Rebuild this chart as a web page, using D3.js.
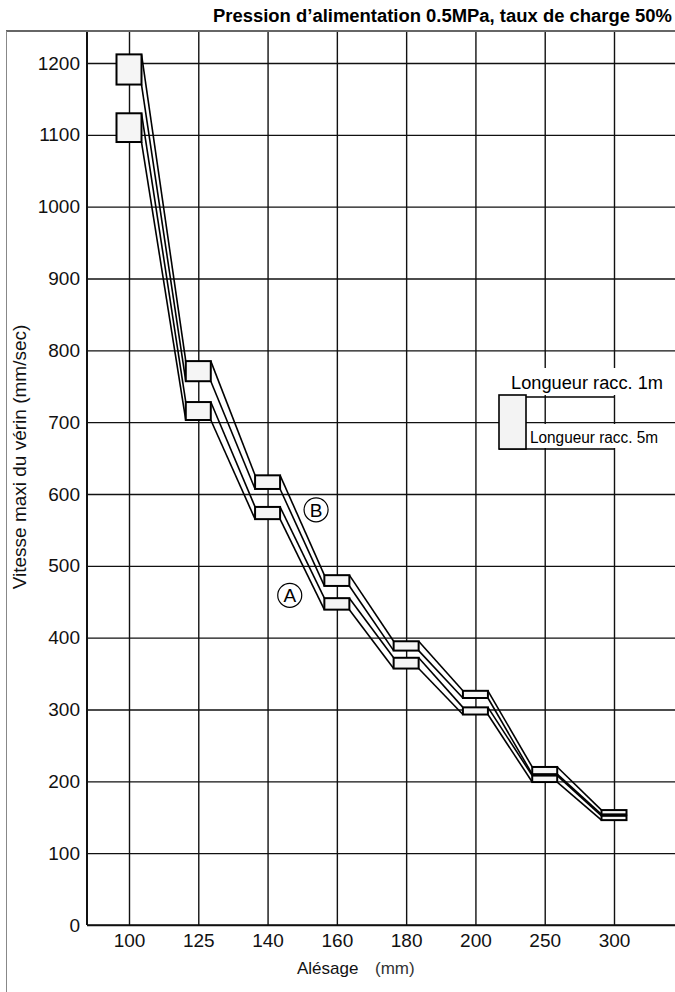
<!DOCTYPE html>
<html>
<head>
<meta charset="utf-8">
<script src="https://cdn.jsdelivr.net/npm/d3@7"></script>
<style>
  html, body { margin: 0; padding: 0; background: #fff; }
  svg { display: block; font-family: "Liberation Sans", Arial, Helvetica, sans-serif; }
</style>
</head>
<body>
<svg id="chart" width="675" height="992"></svg>
<script>
// ---------------- data ----------------
const bores = ["100", "125", "140", "160", "180", "200", "250", "300"];
const yTicks = [0, 100, 200, 300, 400, 500, 600, 700, 800, 900, 1000, 1100, 1200];
// series B (upper band): top of box = 1 m tube, bottom of box = 5 m tube
const bHigh = [1212, 785, 626, 487, 395, 326, 220, 160];
const bLow  = [1170, 757, 607, 472, 382, 316, 210, 154];
// series A (lower band)
const aHigh = [1130, 728, 582, 455, 372, 303, 208, 152];
const aLow  = [1090, 703, 565, 439, 357, 293, 199, 146];

const titleText = "Pression d\u2019alimentation 0.5MPa, taux de charge 50%";
const yTitle = "Vitesse maxi du v\u00e9rin  (mm/sec)";
const xTitle = "Al\u00e9sage";
const xUnit = "(mm)";
const legend1 = "Longueur racc. 1m";
const legend5 = "Longueur racc. 5m";
// circled series labels: between bore 140 and 160, value
const seriesLabels = [
  { name: "B", from: "140", frac: 0.70, v: 578 },
  { name: "A", from: "140", frac: 0.32, v: 459 }
];

// ---------------- layout ----------------
const W = 675, H = 992;
const plotL = 87, plotR = 675, plotT = 32, plotB = 925;
const boxW = 25;

const svg = d3.select("#chart");
const x = d3.scalePoint().domain(bores).range([129, 614]);
const y = d3.scaleLinear().domain([0, 1200]).range([925, 63]);

// outer frame
svg.append("line").attr("x1", 6).attr("x2", W).attr("y1", 31).attr("y2", 31)
  .attr("stroke", "#666").attr("stroke-width", 2);
svg.append("line").attr("x1", 6.5).attr("x2", 6.5).attr("y1", 31).attr("y2", H)
  .attr("stroke", "#888").attr("stroke-width", 1);

// title
svg.append("text").attr("x", 672).attr("y", 22).attr("text-anchor", "end")
  .attr("font-size", 18).attr("font-weight", "bold").attr("fill", "#000")
  .attr("textLength", 459).attr("lengthAdjust", "spacingAndGlyphs")
  .text(titleText);

// y axis with horizontal gridlines
const gy = svg.append("g").attr("transform", `translate(${plotL},0)`)
  .call(d3.axisLeft(y).tickValues(yTicks).tickSize(-(plotR - plotL)).tickPadding(7).tickFormat(d3.format("d")));
gy.select(".domain").remove();
gy.selectAll(".tick line").attr("stroke", "#111").attr("stroke-width", 1.4);
gy.selectAll(".tick text").attr("font-size", 19).attr("fill", "#111")
  .attr("font-family", "Liberation Sans, Arial, sans-serif");

// x axis with vertical gridlines
const gx = svg.append("g").attr("transform", `translate(0,${plotB})`)
  .call(d3.axisBottom(x).tickSize(-(plotB - plotT)).tickPadding(9));
gx.select(".domain").remove();
gx.selectAll(".tick line").attr("stroke", "#111").attr("stroke-width", 1.4);
gx.selectAll(".tick text").attr("font-size", 19).attr("fill", "#111")
  .attr("font-family", "Liberation Sans, Arial, sans-serif");

// axis lines
svg.append("line").attr("x1", plotL).attr("x2", plotL).attr("y1", plotT).attr("y2", plotB)
  .attr("stroke", "#111").attr("stroke-width", 2);
svg.append("line").attr("x1", plotL).attr("x2", plotR).attr("y1", plotB).attr("y2", plotB)
  .attr("stroke", "#111").attr("stroke-width", 1.6);

// axis titles
svg.append("text")
  .attr("transform", `translate(21,457) rotate(-90)`)
  .attr("text-anchor", "middle").attr("dominant-baseline", "middle")
  .attr("font-size", 19).attr("fill", "#111").text(yTitle);
const xt = svg.append("text").attr("y", 974).attr("font-size", 17).attr("fill", "#111");
xt.append("tspan").attr("x", 297).text(xTitle);
xt.append("tspan").attr("x", 375).attr("fill", "#333").text(xUnit);

// ---------------- series ----------------
function series(high, low) {
  return bores.map((b, i) => ({ b, hi: high[i], lo: low[i] }));
}
const allSeries = [series(bHigh, bLow), series(aHigh, aLow)];

const segs = [];
allSeries.forEach(s => {
  for (let i = 0; i < s.length - 1; i++) {
    const p = s[i], q = s[i + 1];
    segs.push({ x1: x(p.b) + boxW / 2, y1: y(p.hi), x2: x(q.b) - boxW / 2, y2: y(q.hi) });
    segs.push({ x1: x(p.b) + boxW / 2, y1: y(p.lo), x2: x(q.b) - boxW / 2, y2: y(q.lo) });
  }
});
svg.append("g").selectAll("line").data(segs).join("line")
  .attr("x1", d => d.x1).attr("y1", d => d.y1).attr("x2", d => d.x2).attr("y2", d => d.y2)
  .attr("stroke", "#000").attr("stroke-width", 1.6);

const boxes = allSeries.flat();
svg.append("g").selectAll("rect").data(boxes).join("rect")
  .attr("x", d => x(d.b) - boxW / 2).attr("width", boxW)
  .attr("y", d => y(d.hi)).attr("height", d => y(d.lo) - y(d.hi))
  .attr("fill", "#f5f5f5").attr("stroke", "#000").attr("stroke-width", 2);

// circled labels
const lab = svg.append("g").selectAll("g").data(seriesLabels).join("g")
  .attr("transform", d => `translate(${x(d.from) + d.frac * x.step()},${y(d.v)})`);
lab.append("circle").attr("r", 12).attr("fill", "#fff").attr("stroke", "#000").attr("stroke-width", 1.2);
lab.append("text").attr("text-anchor", "middle").attr("dy", "0.36em")
  .attr("font-size", 19).attr("fill", "#000").text(d => d.name);

// ---------------- legend ----------------
const lg = svg.append("g");
lg.append("rect").attr("x", 505).attr("y", 368).attr("width", 165).attr("height", 27).attr("fill", "#fff");
lg.append("rect").attr("x", 527).attr("y", 424).attr("width", 140).attr("height", 24).attr("fill", "#fff");
lg.append("line").attr("x1", 499).attr("x2", 614).attr("y1", 397).attr("y2", 397)
  .attr("stroke", "#000").attr("stroke-width", 1.5);
lg.append("line").attr("x1", 499).attr("x2", 614).attr("y1", 449).attr("y2", 449)
  .attr("stroke", "#000").attr("stroke-width", 1.5);
lg.append("rect").attr("x", 499).attr("y", 395).attr("width", 27).attr("height", 54)
  .attr("fill", "#f3f3f3").attr("stroke", "#000").attr("stroke-width", 1.6);
lg.append("text").attr("x", 511).attr("y", 389).attr("font-size", 18).attr("fill", "#000")
  .attr("textLength", 152).attr("lengthAdjust", "spacingAndGlyphs").text(legend1);
lg.append("text").attr("x", 530).attr("y", 443).attr("font-size", 16).attr("fill", "#000")
  .attr("textLength", 128).attr("lengthAdjust", "spacingAndGlyphs").text(legend5);
</script>
</body>
</html>
